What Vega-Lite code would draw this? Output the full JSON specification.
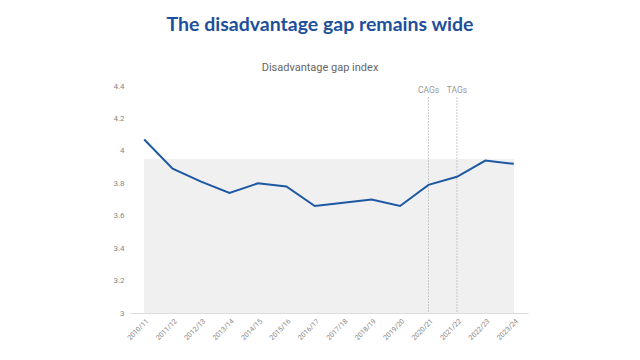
{
  "$schema": "https://vega.github.io/schema/vega-lite/v6.json",
  "autosize": "none",
  "width": 398,
  "height": 227,
  "padding": {"left": 130, "top": 86, "right": 112, "bottom": 47},
  "background": "white",
  "config": {"view": {"stroke": null}, "axis": {"labelOverlap": false, "labelBound": false}},
  "title": {
    "text": "The disadvantage gap remains wide",
    "subtitle": "Disadvantage gap index",
    "anchor": "middle",
    "dx": -9,
    "offset": 8,
    "font": "Lato",
    "fontSize": 19.5,
    "fontWeight": "bold",
    "color": "#1d4f9a",
    "subtitleFont": "Roboto",
    "subtitleFontSize": 11,
    "subtitleColor": "#666666",
    "subtitlePadding": 27
  },
  "data": {
    "values": [
      {"year": "2010/11", "gap": 4.07},
      {"year": "2011/12", "gap": 3.89},
      {"year": "2012/13", "gap": 3.81},
      {"year": "2013/14", "gap": 3.74},
      {"year": "2014/15", "gap": 3.80},
      {"year": "2015/16", "gap": 3.78},
      {"year": "2016/17", "gap": 3.66},
      {"year": "2017/18", "gap": 3.68},
      {"year": "2018/19", "gap": 3.70},
      {"year": "2019/20", "gap": 3.66},
      {"year": "2020/21", "gap": 3.79},
      {"year": "2021/22", "gap": 3.84},
      {"year": "2022/23", "gap": 3.94},
      {"year": "2023/24", "gap": 3.92}
    ]
  },
  "layer": [
    {
      "mark": {"type": "rect", "color": "#f0f0f0"},
      "encoding": {
        "x": {
          "datum": "2010/11",
          "type": "ordinal",
          "scale": {"type": "point", "padding": 0.5},
          "axis": {
            "title": null,
            "labelAngle": -45,
            "labelFontSize": 7,
            "labelFont": "Roboto",
            "labelColor": "#888888",
            "domainColor": "#dddddd",
            "ticks": false,
            "labelPadding": 4
          }
        },
        "x2": {"datum": "2023/24"},
        "y": {
          "datum": 3,
          "type": "quantitative",
          "scale": {"domain": [3, 4.4], "nice": false, "zero": false},
          "axis": {
            "title": null,
            "tickCount": 7,
            "format": "~g",
            "labelOverlap": false,
            "grid": false,
            "domain": false,
            "ticks": false,
            "labelFontSize": 8,
            "labelFont": "Roboto",
            "labelColor": "#888888",
            "labelPadding": 6
          }
        },
        "y2": {"datum": 3.95}
      }
    },
    {
      "data": {"values": [{"year": "2020/21", "label": "CAGs"}, {"year": "2021/22", "label": "TAGs"}]},
      "layer": [
        {
          "mark": {"type": "rule", "color": "#bbbbbb", "strokeWidth": 1, "strokeDash": [1.5, 1.5]},
          "encoding": {
            "x": {"field": "year", "type": "ordinal"},
            "y": {"datum": 4.33, "type": "quantitative"},
            "y2": {"datum": 3}
          }
        },
        {
          "mark": {"type": "text", "color": "#999999", "fontSize": 8.5, "font": "Roboto", "baseline": "bottom", "dy": -2},
          "encoding": {
            "x": {"field": "year", "type": "ordinal"},
            "y": {"datum": 4.33, "type": "quantitative"},
            "text": {"field": "label"}
          }
        }
      ]
    },
    {
      "mark": {"type": "line", "color": "#1d58a3", "strokeWidth": 2},
      "encoding": {
        "x": {"field": "year", "type": "ordinal"},
        "y": {"field": "gap", "type": "quantitative"}
      }
    }
  ]
}
